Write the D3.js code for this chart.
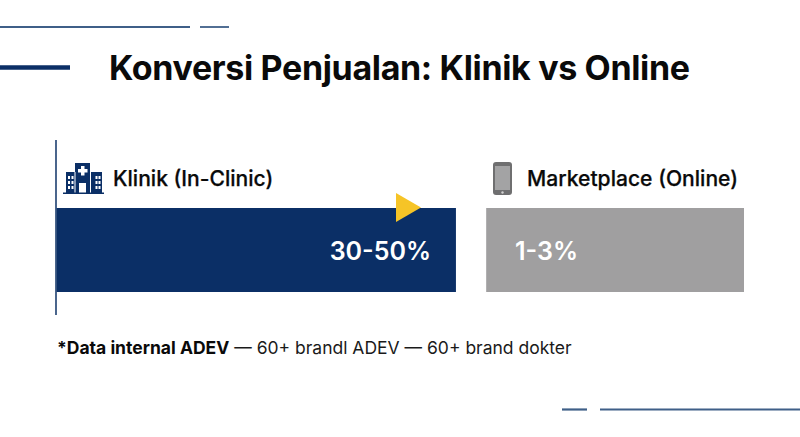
<!DOCTYPE html>
<html>
<head>
<meta charset="utf-8">
<script src="https://cdn.jsdelivr.net/npm/d3@7"></script>
<style>
  html, body { margin: 0; padding: 0; background: #fff; }
  svg { display: block; font-family: Inter, sans-serif; }
</style>
</head>
<body>
<svg width="800" height="437"></svg>
<script>
// chart data
const categories = ["Klinik (In-Clinic)", "Marketplace (Online)"];
const valueLabels = ["30-50%", "1-3%"];
// the bars are not drawn to value, so these are lengths read off the picture (% of plot width)
const barLengths = [58.1, 37.5];
const barGap = 4.4;
const barColors = ["#0b2f66", "#a09fa0"];

const title = "Konversi Penjualan: Klinik vs Online";
const noteBold = "*Data internal ADEV";
const noteRest = " — 60+ brandl ADEV — 60+ brand dokter";

const svg = d3.select("svg");
const navy = "#0b2f66", rule = "#3f5f88";

// bars start at the left rule and the plot runs to x=744
const x = d3.scaleLinear().domain([0, 100]).range([56.5, 744]);
const barTop = 208, barHeight = 84;

const starts = [];
barLengths.reduce((acc, len) => { starts.push(acc); return acc + len + barGap; }, 0);

// decorative lines
const deco = [
  [0, 190, 27, 1.8, rule], [200, 229, 27, 1.8, rule],
  [0, 70, 67.5, 4.5, navy],
  [562, 587, 409.5, 2.2, rule], [600, 800, 409.5, 2.2, rule]
];
svg.selectAll(".deco").data(deco).enter().append("line")
  .attr("class", "deco")
  .attr("x1", d => d[0]).attr("x2", d => d[1])
  .attr("y1", d => d[2]).attr("y2", d => d[2])
  .attr("stroke", d => d[4]).attr("stroke-width", d => d[3]);

svg.append("text")
  .attr("x", 109).attr("y", 80)
  .attr("font-size", 34).attr("font-weight", 700)
  .attr("fill", "#0a0a0a").attr("letter-spacing", -0.35)
  .text(title);

// bars
svg.selectAll(".bar").data(categories).enter().append("rect")
  .attr("class", "bar")
  .attr("x", (d, i) => x(starts[i]))
  .attr("y", barTop)
  .attr("width", (d, i) => x(barLengths[i]) - x(0))
  .attr("height", barHeight)
  .attr("fill", (d, i) => barColors[i]);

// left axis line
svg.append("line")
  .attr("x1", 56).attr("x2", 56).attr("y1", 140).attr("y2", 315)
  .attr("stroke", "#1d3f70").attr("stroke-width", 1.6);

// category labels
const labelX = [113, 527];
svg.selectAll(".cat").data(categories).enter().append("text")
  .attr("class", "cat")
  .attr("x", (d, i) => labelX[i]).attr("y", 186)
  .attr("font-size", 21.1).attr("font-weight", 500)
  .attr("stroke", "#0a0a0a").attr("stroke-width", 0.25)
  .attr("fill", "#0a0a0a")
  .text(d => d);

// value labels
const valueX = [431, 515];
svg.selectAll(".val").data(valueLabels).enter().append("text")
  .attr("class", "val")
  .attr("x", (d, i) => valueX[i]).attr("y", 259.5)
  .attr("text-anchor", (d, i) => i === 0 ? "end" : "start")
  .attr("font-size", 25).attr("font-weight", 600)
  .attr("fill", "#fff")
  .text(d => d);

// yellow arrow
svg.append("path")
  .attr("d", "M396,193L421,207.5L396,222Z")
  .attr("fill", "#f6c427");

// hospital icon
const hosp = svg.append("g").attr("fill", navy);
hosp.append("path").attr("d",
  "M63,194v-1.5h3V172h9v-9h15v9h12v20.5h2V194Z");
hosp.append("g").attr("fill", "#fff").call(g => {
  g.append("path").attr("d", "M81,166h3.5v3h3v3.5h-3v3h-3.5v-3h-3v-3.5h3Z");
  g.append("rect").attr("x", 79).attr("y", 183).attr("width", 7).attr("height", 9.5);
  const cols = [68, 71.5, 95.5, 98.5], rows = [176, 181, 186];
  cols.forEach(cx => rows.forEach(cy => {
    g.append("rect").attr("x", cx).attr("y", cy).attr("width", 2).attr("height", 3);
  }));
  // gaps between the central block and the side wings
  g.append("rect").attr("x", 74.5).attr("y", 172).attr("width", 1).attr("height", 20.5);
  g.append("rect").attr("x", 90).attr("y", 172).attr("width", 1).attr("height", 20.5);
});

// phone icon
svg.append("rect").attr("x", 493).attr("y", 162).attr("width", 19).attr("height", 33)
  .attr("rx", 3).attr("fill", "#6f6f70");
svg.append("rect").attr("x", 495).attr("y", 166).attr("width", 15).attr("height", 24)
  .attr("fill", "#a3a3a4");
svg.append("circle").attr("cx", 502.5).attr("cy", 192.5).attr("r", 1.2).attr("fill", "#d0d0d0");

// footnote
const note = svg.append("text")
  .attr("x", 57).attr("y", 354)
  .attr("font-size", 17.5).attr("fill", "#1a1a1a");
note.append("tspan").attr("font-weight", 700).attr("fill", "#0a0a0a").text(noteBold);
note.append("tspan").text(noteRest);
</script>
</body>
</html>
